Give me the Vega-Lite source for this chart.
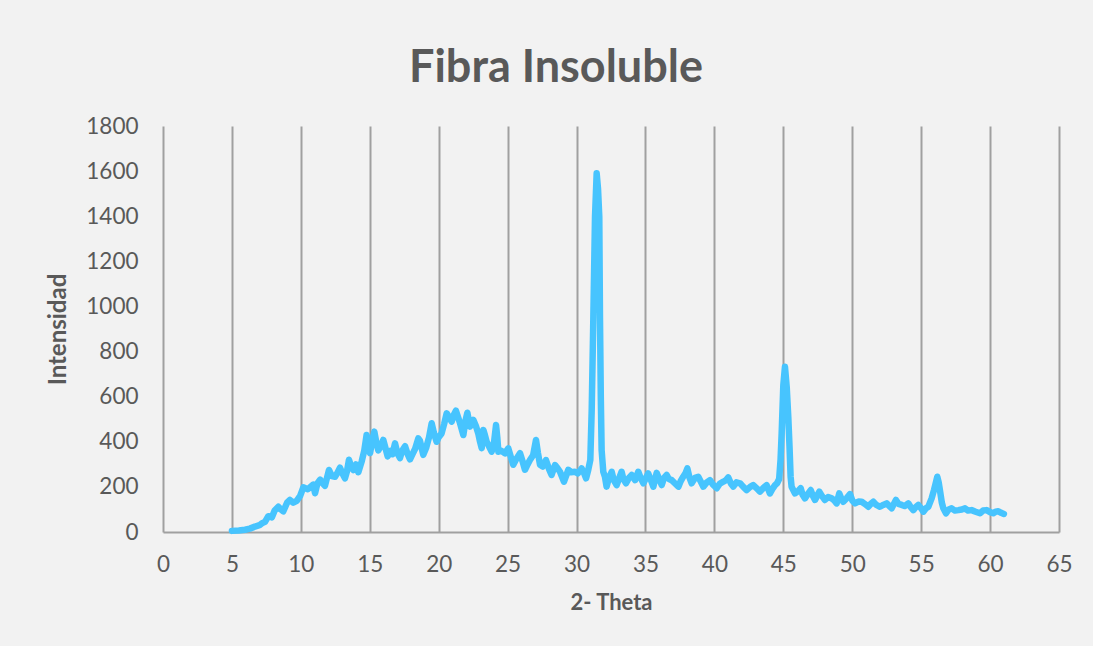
{
  "$schema": "https://vega.github.io/schema/vega-lite/v6.json",
  "width": 896,
  "height": 406,
  "autosize": {"type": "none"},
  "padding": {"left": 163, "top": 126, "right": 34, "bottom": 114},
  "background": "#f2f2f2",
  "title": {
    "text": "Fibra Insoluble",
    "font": "Lato",
    "fontSize": 45,
    "fontWeight": "bold",
    "color": "#595959",
    "anchor": "middle",
    "dx": -55,
    "offset": 24
  },
  "data": {
    "values": [
      {"theta": 5.0, "intensidad": 5}, {"theta": 5.5, "intensidad": 7}, {"theta": 5.95, "intensidad": 10},
      {"theta": 6.3, "intensidad": 15}, {"theta": 6.67, "intensidad": 24}, {"theta": 7.0, "intensidad": 30},
      {"theta": 7.16, "intensidad": 38}, {"theta": 7.4, "intensidad": 45}, {"theta": 7.64, "intensidad": 70},
      {"theta": 7.9, "intensidad": 65}, {"theta": 8.1, "intensidad": 95}, {"theta": 8.37, "intensidad": 112},
      {"theta": 8.55, "intensidad": 100}, {"theta": 8.73, "intensidad": 92}, {"theta": 9.0, "intensidad": 130},
      {"theta": 9.21, "intensidad": 142}, {"theta": 9.45, "intensidad": 130}, {"theta": 9.7, "intensidad": 138},
      {"theta": 9.95, "intensidad": 160}, {"theta": 10.18, "intensidad": 198}, {"theta": 10.5, "intensidad": 190},
      {"theta": 10.9, "intensidad": 210}, {"theta": 11.03, "intensidad": 172}, {"theta": 11.2, "intensidad": 215},
      {"theta": 11.4, "intensidad": 232}, {"theta": 11.6, "intensidad": 215}, {"theta": 11.75, "intensidad": 205},
      {"theta": 12.04, "intensidad": 275}, {"theta": 12.25, "intensidad": 248}, {"theta": 12.48, "intensidad": 245},
      {"theta": 12.65, "intensidad": 262}, {"theta": 12.84, "intensidad": 285}, {"theta": 13.0, "intensidad": 262},
      {"theta": 13.2, "intensidad": 238}, {"theta": 13.35, "intensidad": 270}, {"theta": 13.49, "intensidad": 320},
      {"theta": 13.65, "intensidad": 290}, {"theta": 13.81, "intensidad": 275}, {"theta": 14.0, "intensidad": 300},
      {"theta": 14.17, "intensidad": 265}, {"theta": 14.41, "intensidad": 312}, {"theta": 14.6, "intensidad": 360},
      {"theta": 14.77, "intensidad": 430}, {"theta": 14.9, "intensidad": 400}, {"theta": 15.02, "intensidad": 350},
      {"theta": 15.2, "intensidad": 410}, {"theta": 15.33, "intensidad": 445}, {"theta": 15.5, "intensidad": 390},
      {"theta": 15.62, "intensidad": 362}, {"theta": 15.8, "intensidad": 380}, {"theta": 15.98, "intensidad": 408},
      {"theta": 16.15, "intensidad": 370}, {"theta": 16.3, "intensidad": 335}, {"theta": 16.5, "intensidad": 360},
      {"theta": 16.65, "intensidad": 345}, {"theta": 16.83, "intensidad": 393}, {"theta": 17.0, "intensidad": 350},
      {"theta": 17.19, "intensidad": 328}, {"theta": 17.35, "intensidad": 360}, {"theta": 17.56, "intensidad": 380},
      {"theta": 17.75, "intensidad": 345}, {"theta": 17.92, "intensidad": 322}, {"theta": 18.1, "intensidad": 345},
      {"theta": 18.3, "intensidad": 370}, {"theta": 18.52, "intensidad": 415}, {"theta": 18.64, "intensidad": 405},
      {"theta": 18.88, "intensidad": 342}, {"theta": 19.1, "intensidad": 375}, {"theta": 19.3, "intensidad": 420},
      {"theta": 19.49, "intensidad": 482}, {"theta": 19.65, "intensidad": 440}, {"theta": 19.85, "intensidad": 400},
      {"theta": 20.0, "intensidad": 420}, {"theta": 20.21, "intensidad": 437}, {"theta": 20.4, "intensidad": 480},
      {"theta": 20.58, "intensidad": 526}, {"theta": 20.75, "intensidad": 510}, {"theta": 20.94, "intensidad": 489},
      {"theta": 21.1, "intensidad": 520}, {"theta": 21.25, "intensidad": 538}, {"theta": 21.4, "intensidad": 510},
      {"theta": 21.55, "intensidad": 482}, {"theta": 21.79, "intensidad": 430}, {"theta": 21.95, "intensidad": 495},
      {"theta": 22.08, "intensidad": 529}, {"theta": 22.27, "intensidad": 467}, {"theta": 22.51, "intensidad": 497},
      {"theta": 22.7, "intensidad": 470}, {"theta": 22.87, "intensidad": 437}, {"theta": 23.0, "intensidad": 400},
      {"theta": 23.12, "intensidad": 372}, {"theta": 23.24, "intensidad": 452}, {"theta": 23.35, "intensidad": 430},
      {"theta": 23.48, "intensidad": 400}, {"theta": 23.65, "intensidad": 380}, {"theta": 23.84, "intensidad": 356},
      {"theta": 24.0, "intensidad": 390}, {"theta": 24.16, "intensidad": 474}, {"theta": 24.25, "intensidad": 420},
      {"theta": 24.33, "intensidad": 356}, {"theta": 24.55, "intensidad": 360}, {"theta": 24.81, "intensidad": 349},
      {"theta": 25.05, "intensidad": 371}, {"theta": 25.25, "intensidad": 330}, {"theta": 25.41, "intensidad": 298},
      {"theta": 25.6, "intensidad": 320}, {"theta": 25.9, "intensidad": 349}, {"theta": 26.1, "intensidad": 310},
      {"theta": 26.26, "intensidad": 276}, {"theta": 26.45, "intensidad": 300}, {"theta": 26.62, "intensidad": 319},
      {"theta": 26.85, "intensidad": 340}, {"theta": 27.06, "intensidad": 408}, {"theta": 27.2, "intensidad": 350},
      {"theta": 27.35, "intensidad": 298}, {"theta": 27.55, "intensidad": 290}, {"theta": 27.78, "intensidad": 319},
      {"theta": 28.0, "intensidad": 280}, {"theta": 28.19, "intensidad": 253}, {"theta": 28.44, "intensidad": 297},
      {"theta": 28.6, "intensidad": 285}, {"theta": 28.8, "intensidad": 267}, {"theta": 29.09, "intensidad": 223},
      {"theta": 29.25, "intensidad": 250}, {"theta": 29.4, "intensidad": 276}, {"theta": 29.6, "intensidad": 265},
      {"theta": 29.89, "intensidad": 267}, {"theta": 30.1, "intensidad": 260}, {"theta": 30.37, "intensidad": 282},
      {"theta": 30.55, "intensidad": 260}, {"theta": 30.69, "intensidad": 238}, {"theta": 30.85, "intensidad": 275},
      {"theta": 31.0, "intensidad": 320}, {"theta": 31.1, "intensidad": 541}, {"theta": 31.22, "intensidad": 955},
      {"theta": 31.34, "intensidad": 1398}, {"theta": 31.46, "intensidad": 1590}, {"theta": 31.56, "intensidad": 1520},
      {"theta": 31.65, "intensidad": 1398}, {"theta": 31.7, "intensidad": 955}, {"theta": 31.76, "intensidad": 600},
      {"theta": 31.82, "intensidad": 363}, {"theta": 31.94, "intensidad": 267}, {"theta": 32.06, "intensidad": 245},
      {"theta": 32.18, "intensidad": 201}, {"theta": 32.35, "intensidad": 240}, {"theta": 32.55, "intensidad": 267},
      {"theta": 32.7, "intensidad": 230}, {"theta": 32.91, "intensidad": 208}, {"theta": 33.1, "intensidad": 240},
      {"theta": 33.27, "intensidad": 267}, {"theta": 33.4, "intensidad": 235}, {"theta": 33.59, "intensidad": 216},
      {"theta": 33.8, "intensidad": 240}, {"theta": 34.0, "intensidad": 253}, {"theta": 34.25, "intensidad": 230},
      {"theta": 34.48, "intensidad": 267}, {"theta": 34.65, "intensidad": 240}, {"theta": 34.85, "intensidad": 216},
      {"theta": 35.0, "intensidad": 235}, {"theta": 35.2, "intensidad": 260}, {"theta": 35.4, "intensidad": 230},
      {"theta": 35.57, "intensidad": 201}, {"theta": 35.81, "intensidad": 262}, {"theta": 36.0, "intensidad": 235},
      {"theta": 36.18, "intensidad": 208}, {"theta": 36.35, "intensidad": 240}, {"theta": 36.54, "intensidad": 253},
      {"theta": 36.7, "intensidad": 235}, {"theta": 36.9, "intensidad": 230}, {"theta": 37.15, "intensidad": 215},
      {"theta": 37.39, "intensidad": 201}, {"theta": 37.55, "intensidad": 225}, {"theta": 37.74, "intensidad": 245},
      {"theta": 37.9, "intensidad": 260}, {"theta": 38.04, "intensidad": 282}, {"theta": 38.2, "intensidad": 240},
      {"theta": 38.35, "intensidad": 216}, {"theta": 38.6, "intensidad": 240}, {"theta": 38.83, "intensidad": 245},
      {"theta": 39.0, "intensidad": 225}, {"theta": 39.2, "intensidad": 201}, {"theta": 39.45, "intensidad": 220},
      {"theta": 39.68, "intensidad": 230}, {"theta": 39.9, "intensidad": 210}, {"theta": 40.17, "intensidad": 194},
      {"theta": 40.4, "intensidad": 215}, {"theta": 40.65, "intensidad": 223}, {"theta": 40.85, "intensidad": 230},
      {"theta": 41.01, "intensidad": 242}, {"theta": 41.2, "intensidad": 215}, {"theta": 41.37, "intensidad": 201},
      {"theta": 41.6, "intensidad": 220}, {"theta": 41.86, "intensidad": 216}, {"theta": 42.1, "intensidad": 200},
      {"theta": 42.34, "intensidad": 186}, {"theta": 42.6, "intensidad": 200}, {"theta": 42.82, "intensidad": 208},
      {"theta": 43.05, "intensidad": 195}, {"theta": 43.31, "intensidad": 179}, {"theta": 43.55, "intensidad": 195},
      {"theta": 43.79, "intensidad": 208}, {"theta": 44.03, "intensidad": 171}, {"theta": 44.2, "intensidad": 190},
      {"theta": 44.4, "intensidad": 208}, {"theta": 44.55, "intensidad": 216}, {"theta": 44.7, "intensidad": 235},
      {"theta": 44.8, "intensidad": 320}, {"theta": 44.88, "intensidad": 437}, {"theta": 45.0, "intensidad": 650},
      {"theta": 45.12, "intensidad": 733}, {"theta": 45.25, "intensidad": 640}, {"theta": 45.36, "intensidad": 511},
      {"theta": 45.45, "intensidad": 380}, {"theta": 45.53, "intensidad": 245}, {"theta": 45.6, "intensidad": 201},
      {"theta": 45.85, "intensidad": 171}, {"theta": 46.05, "intensidad": 180}, {"theta": 46.26, "intensidad": 194},
      {"theta": 46.4, "intensidad": 165}, {"theta": 46.57, "intensidad": 149}, {"theta": 46.8, "intensidad": 170},
      {"theta": 46.99, "intensidad": 186}, {"theta": 47.15, "intensidad": 160}, {"theta": 47.3, "intensidad": 142},
      {"theta": 47.45, "intensidad": 160}, {"theta": 47.61, "intensidad": 179}, {"theta": 47.8, "intensidad": 160},
      {"theta": 48.02, "intensidad": 142}, {"theta": 48.25, "intensidad": 155}, {"theta": 48.51, "intensidad": 149},
      {"theta": 48.7, "intensidad": 140}, {"theta": 48.87, "intensidad": 127}, {"theta": 49.06, "intensidad": 171},
      {"theta": 49.2, "intensidad": 150}, {"theta": 49.35, "intensidad": 134}, {"theta": 49.6, "intensidad": 150},
      {"theta": 49.84, "intensidad": 168}, {"theta": 50.0, "intensidad": 140}, {"theta": 50.2, "intensidad": 127},
      {"theta": 50.45, "intensidad": 135}, {"theta": 50.69, "intensidad": 134}, {"theta": 50.9, "intensidad": 125},
      {"theta": 51.17, "intensidad": 112}, {"theta": 51.35, "intensidad": 125}, {"theta": 51.53, "intensidad": 134},
      {"theta": 51.75, "intensidad": 120}, {"theta": 52.01, "intensidad": 112}, {"theta": 52.25, "intensidad": 120},
      {"theta": 52.5, "intensidad": 127}, {"theta": 52.7, "intensidad": 115}, {"theta": 52.86, "intensidad": 105},
      {"theta": 53.17, "intensidad": 142}, {"theta": 53.35, "intensidad": 125}, {"theta": 53.59, "intensidad": 120},
      {"theta": 53.8, "intensidad": 115}, {"theta": 54.07, "intensidad": 127}, {"theta": 54.25, "intensidad": 110},
      {"theta": 54.43, "intensidad": 97}, {"theta": 54.6, "intensidad": 110}, {"theta": 54.79, "intensidad": 120},
      {"theta": 55.0, "intensidad": 105}, {"theta": 55.16, "intensidad": 90}, {"theta": 55.35, "intensidad": 105},
      {"theta": 55.52, "intensidad": 112}, {"theta": 55.76, "intensidad": 149}, {"theta": 55.93, "intensidad": 186},
      {"theta": 56.05, "intensidad": 215}, {"theta": 56.17, "intensidad": 245}, {"theta": 56.27, "intensidad": 220},
      {"theta": 56.36, "intensidad": 186}, {"theta": 56.5, "intensidad": 130}, {"theta": 56.61, "intensidad": 105},
      {"theta": 56.8, "intensidad": 83}, {"theta": 57.0, "intensidad": 100}, {"theta": 57.21, "intensidad": 105},
      {"theta": 57.45, "intensidad": 95}, {"theta": 57.7, "intensidad": 97}, {"theta": 57.95, "intensidad": 100},
      {"theta": 58.18, "intensidad": 105}, {"theta": 58.4, "intensidad": 95}, {"theta": 58.66, "intensidad": 97},
      {"theta": 58.95, "intensidad": 90}, {"theta": 59.27, "intensidad": 83}, {"theta": 59.5, "intensidad": 95},
      {"theta": 59.75, "intensidad": 97}, {"theta": 60.0, "intensidad": 88}, {"theta": 60.23, "intensidad": 83},
      {"theta": 60.4, "intensidad": 90}, {"theta": 60.6, "intensidad": 92}, {"theta": 60.8, "intensidad": 85},
      {"theta": 61.0, "intensidad": 80}
    ]
  },
  "mark": {
    "type": "line",
    "color": "#47c4fe",
    "strokeWidth": 6.5,
    "strokeCap": "round",
    "strokeJoin": "round"
  },
  "encoding": {
    "x": {
      "field": "theta",
      "type": "quantitative",
      "scale": {"domain": [0, 65], "nice": false, "zero": false},
      "axis": {
        "title": "2- Theta",
        "titleFontSize": 22,
        "values": [0, 5, 10, 15, 20, 25, 30, 35, 40, 45, 50, 55, 60, 65],
        "grid": true,
        "gridColor": "#a0a0a0",
        "gridWidth": 2,
        "domainColor": "#a0a0a0",
        "domainWidth": 2,
        "ticks": false,
        "labelFlush": false,
        "labelPadding": 21,
        "titlePadding": 17
      }
    },
    "y": {
      "field": "intensidad",
      "type": "quantitative",
      "scale": {"domain": [0, 1800], "nice": false},
      "axis": {
        "title": "Intensidad",
        "titleFontSize": 24,
        "format": "d",
        "values": [0, 200, 400, 600, 800, 1000, 1200, 1400, 1600, 1800],
        "grid": false,
        "domain": false,
        "ticks": false,
        "labelFlush": false,
        "labelPadding": 25,
        "titlePadding": 15
      }
    }
  },
  "config": {
    "view": {"stroke": null},
    "axis": {
      "labelFont": "Lato",
      "labelFontSize": 22.5,
      "labelColor": "#595959",
      "titleFont": "Lato",
      "titleFontWeight": "bold",
      "titleColor": "#595959"
    }
  }
}
